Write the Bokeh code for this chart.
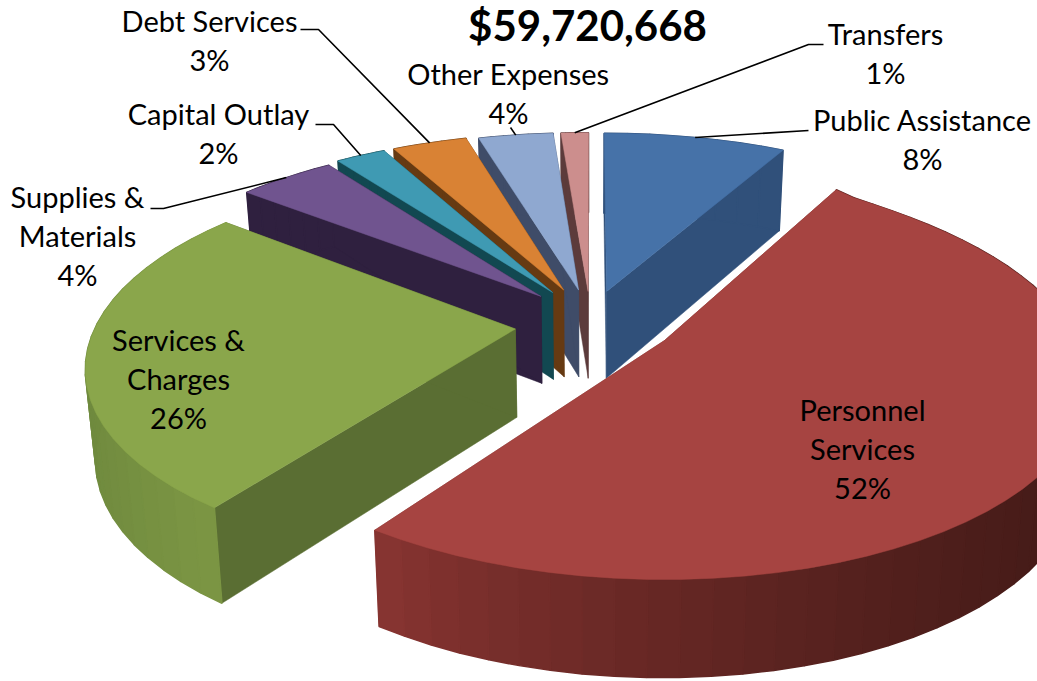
import numpy as np
from bokeh.plotting import figure
from bokeh.models import Range1d
from bokeh.core.properties import value
from bokeh.embed import file_html
from bokeh.resources import INLINE

categories = ["Public Assistance", "Personnel Services", "Services & Charges", "Supplies & Materials",
              "Capital Outlay", "Debt Services", "Other Expenses", "Transfers"]
# slice sizes (the printed labels are rounded)
shares = [8, 52, 25.7, 4.3, 2.2, 3.3, 3.3, 1.2]
title_text = "$59,720,668"
label_lines = [["Public Assistance", "8%"], ["Personnel", "Services", "52%"], ["Services &", "Charges", "26%"],
               ["Supplies &", "Materials", "4%"], ["Capital Outlay", "2%"], ["Debt Services", "3%"],
               ["Other Expenses", "4%"], ["Transfers", "1%"]]

# styles
top_col = ["#4672a8", "#a64441", "#8aa64b", "#70548f", "#3f9ab3", "#d98234", "#8fa8d0", "#cc8e8d"]
face_col = ["#30507a", "#7a2e2b", "#5a6e33", "#2f203f", "#124851", "#663a12", "#3f4c68", "#5c3b3b"]
wall_a = ["#30507a", "#8a3532", "#6f8a3e", "#2f203f", "#124851", "#663a12", "#3f4c68", "#5c3b3b"]
wall_b = ["#30507a", "#431a17", "#7d9744", "#2f203f", "#124851", "#663a12", "#3f4c68", "#5c3b3b"]
# layout (reference pixels)
label_xy = [(922, 119), (862, 409), (178, 339), (77, 196), (218, 113), (209, 20), (508, 73), (885, 33)]
title_xy = (587, 24)
line_gap = 39
leader_from = [[(808, 130)], None, None, [(150, 208), (163, 208)], [(315, 124), (333, 124)],
               [(300, 29), (318, 29)], [(510, 127)], [(823, 44), (808, 44)]]

# projection of the tilted pie
CX, CY, A, B, K, DEPTH, TAPER = 590, 319, 430, 192, 0.18, 88, 0.02
explode = [0.155, 0.20, 0.18, 0.17, 0.17, 0.17, 0.16, 0.15]
explode_turn = [0, 0, -8, 0, 0, 0, 0, 0]
radius = [1.025, 1.0, 0.97, 1.01, 1.02, 1.02, 1.02, 1.03]
rim_flat = [0, 0.06, 0, 0, 0, 0, 0, 0]


def project(X, Y, lower=False):
    X, Y = np.asarray(X, float), np.asarray(Y, float)
    w = 1 + K * Y
    sx = A * X / w
    sy = -B * Y / w
    if lower:
        sx = sx * (1 - TAPER)
        sy = sy + DEPTH / np.sqrt(w)
    return CX + sx, CY + sy


def hex2rgb(h):
    return np.array([int(h[i:i + 2], 16) for i in (1, 3, 5)], float)


def mix(a, b, t):
    c = hex2rgb(a) * (1 - t) + hex2rgb(b) * t
    return "#%02x%02x%02x" % tuple(int(round(v)) for v in c)


p = figure(width=1037, height=681, output_backend="svg", toolbar_location=None,
           x_range=Range1d(0, 1037), y_range=Range1d(681, 0), min_border=0)
p.axis.visible = False
p.grid.visible = False
p.outline_line_color = None
p.background_fill_color = "white"

edges = np.cumsum([0] + shares) / sum(shares) * 2 * np.pi
mids = (edges[:-1] + edges[1:]) / 2
order = np.argsort(-np.cos(mids))
rim_ends = {}


def rim(i, t, t0, t1, ox, oy):
    f = np.clip((t - t0) / (t1 - t0), 0, 1)
    r = radius[i] * (1 - rim_flat[i] * np.sin(np.pi * f ** 0.5))
    return ox + r * np.sin(t), oy + r * np.cos(t)


for i in order:
    t0, t1, tm = edges[i], edges[i + 1], mids[i]
    td = tm + np.radians(explode_turn[i])
    ox, oy = explode[i] * np.sin(td), explode[i] * np.cos(td)
    n = max(6, int(shares[i]))
    th = np.linspace(t0, t1, n + 1)
    rx, ry = rim(i, th, t0, t1, ox, oy)
    # radial faces
    for e in (0, n):
        ex, ey = rx[e], ry[e]
        x1, y1 = project([ox, ex], [oy, ey])
        x2, y2 = project([ex, ox], [ey, oy], True)
        p.patch(np.r_[x1, x2], np.r_[y1, y2], fill_color=face_col[i], line_color=face_col[i], line_width=0.5)
    # outer wall strips
    tx, ty = project(rx, ry)
    bx, by = project(rx, ry, True)
    xs, ys, cols = [], [], []
    span = max(tx.max() - tx.min(), 1)
    for k in range(n):
        xs.append([tx[k], tx[k + 1], bx[k + 1], bx[k]])
        ys.append([ty[k], ty[k + 1], by[k + 1], by[k]])
        cols.append(mix(wall_a[i], wall_b[i], (((tx[k] + tx[k + 1]) / 2 - tx.min()) / span) ** 0.75))
    p.patches(xs, ys, fill_color=cols, line_color=cols, line_width=1.5)
    # top surface
    ax, ay = project([ox], [oy])
    p.patch(np.r_[ax, tx], np.r_[ay, ty], fill_color=top_col[i], line_color=top_col[i], line_width=0.5)
    mr = rim(i, np.array([tm]), t0, t1, ox, oy)
    mx, my = project(mr[0], mr[1])
    rim_ends[i] = (float(mx[0]), float(my[0]))

# leaders
for i, start in enumerate(leader_from):
    if start is None:
        continue
    pts = start + [rim_ends[i]]
    p.line([q[0] for q in pts], [q[1] for q in pts], line_color="black", line_width=1.6)

# labels
lx, ly, lt = [], [], []
for (x, y), lines in zip(label_xy, label_lines):
    for j, s in enumerate(lines):
        lx.append(x); ly.append(y + j * line_gap); lt.append(s)
p.text(lx, ly, text=lt, text_font=value("Lato"), text_font_size="29px", text_color="black",
       text_align="center", text_baseline="middle")
p.text([title_xy[0]], [title_xy[1]], text=[title_text], text_font=value("Lato"), text_font_size="42px",
       text_font_style="bold", text_color="black", text_align="center", text_baseline="middle")

open("out.html", "w").write(file_html(p, INLINE))
